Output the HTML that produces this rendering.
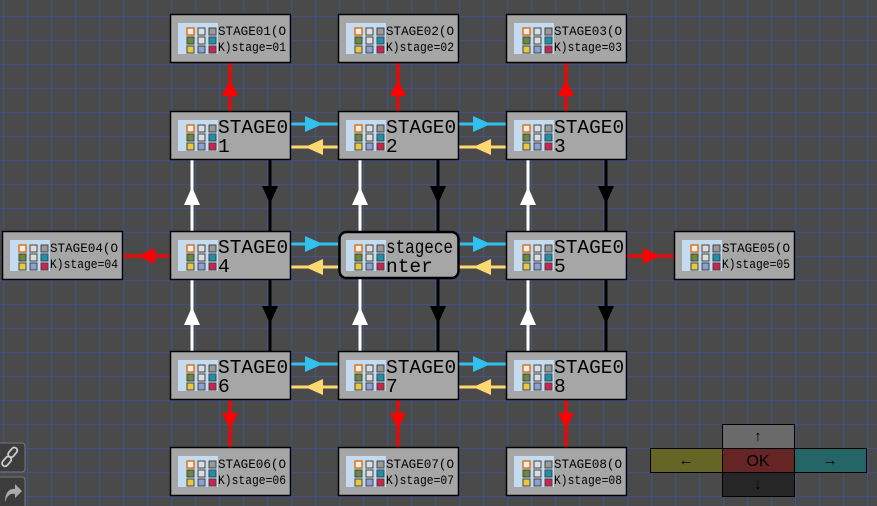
<!DOCTYPE html>
<html><head><meta charset="utf-8"><style>
html,body{margin:0;padding:0;background:#4a4a4a;}
svg{display:block;}
text{font-family:"Liberation Mono","DejaVu Sans Mono",monospace;fill:#000;}
.big{font-size:19.5px;}
.sm{font-size:12.5px;}
</style></head><body>
<svg width="877" height="506" viewBox="0 0 877 506" xmlns="http://www.w3.org/2000/svg">
<defs>
<pattern id="grid" x="3.5" y="16.3" width="24" height="24" patternUnits="userSpaceOnUse">
<path d="M0 0H24M0 0V24" stroke="#3f55b5" stroke-width="1.2" fill="none"/>
</pattern>
<g id="ic">
<rect x="0" y="0" width="40" height="31" fill="#c5dcf0"/>
<rect x="9" y="5" width="7" height="7" fill="#eee" stroke="#e07010" stroke-width="1.5"/>
<rect x="20" y="5" width="7" height="7" fill="#ddd" stroke="#444"/>
<rect x="31" y="5" width="7" height="7" fill="#999" stroke="#444"/>
<rect x="9" y="14" width="7" height="7" fill="#6a8a40" stroke="#444"/>
<rect x="20" y="14" width="7" height="7" fill="#ddd" stroke="#444"/>
<rect x="31" y="14" width="7" height="7" fill="#2090b0" stroke="#444"/>
<rect x="9" y="23" width="7" height="7" fill="#e8c840" stroke="#444"/>
<rect x="20" y="23" width="7" height="7" fill="#8aa0d0" stroke="#444"/>
<rect x="31" y="23" width="7" height="7" fill="#d02050" stroke="#444"/>
</g>
</defs>
<rect width="877" height="506" fill="#4a4a4a"/>
<rect width="877" height="506" fill="url(#grid)"/>

<g stroke-width="3">
<g id="hp">
<line x1="290" y1="124" x2="338" y2="124" stroke="#30c0f0"/>
<polygon points="305,116 323,124 305,132" fill="#30c0f0" stroke="none"/>
<line x1="290" y1="147" x2="338" y2="147" stroke="#ffd870"/>
<polygon points="323,139 305,147 323,155" fill="#ffd870" stroke="none"/>
</g>
<use href="#hp" x="168"/>
<use href="#hp" y="120"/><use href="#hp" x="168" y="120"/>
<use href="#hp" y="240"/><use href="#hp" x="168" y="240"/>
<g id="vp">
<line x1="192" y1="159" x2="192" y2="231" stroke="#fff"/>
<polygon points="192,187 184,205 200,205" fill="#fff" stroke="none"/>
<line x1="270" y1="159" x2="270" y2="231" stroke="#000"/>
<polygon points="262,186 278,186 270,204" fill="#000" stroke="none"/>
</g>
<use href="#vp" x="168"/><use href="#vp" x="336"/>
<use href="#vp" y="120"/><use href="#vp" x="168" y="120"/><use href="#vp" x="336" y="120"/>
<g id="rt"><line x1="230" y1="62" x2="230" y2="111" stroke="#f00"/>
<polygon points="230,80 222,96 238,96" fill="#f00" stroke="none"/></g>
<use href="#rt" x="168"/><use href="#rt" x="336"/>
<g id="rb"><line x1="230" y1="399" x2="230" y2="447" stroke="#f00"/>
<polygon points="222,413 238,413 230,429" fill="#f00" stroke="none"/></g>
<use href="#rb" x="168"/><use href="#rb" x="336"/>
<line x1="122" y1="256" x2="170" y2="256" stroke="#f00"/>
<polygon points="138,256 155,248 155,264" fill="#f00"/>
<line x1="626" y1="256" x2="674" y2="256" stroke="#f00"/>
<polygon points="660,256 643,248 643,264" fill="#f00"/>
</g>

<g stroke="#000" stroke-width="1.5" fill="#a6a6a6">
<rect x="170.5" y="111.5" width="120" height="48"/>
<rect x="338.5" y="111.5" width="120" height="48"/>
<rect x="506.5" y="111.5" width="120" height="48"/>
<rect x="170.5" y="231.5" width="120" height="48"/>
<rect x="506.5" y="231.5" width="120" height="48"/>
<rect x="170.5" y="351.5" width="120" height="48"/>
<rect x="338.5" y="351.5" width="120" height="48"/>
<rect x="506.5" y="351.5" width="120" height="48"/>
<rect x="339.5" y="232" width="119" height="46" rx="7" stroke-width="2.5"/>
<rect x="170.5" y="14.5" width="120" height="48"/>
<rect x="338.5" y="14.5" width="120" height="48"/>
<rect x="506.5" y="14.5" width="120" height="48"/>
<rect x="2.5" y="231.5" width="120" height="48"/>
<rect x="674.5" y="231.5" width="120" height="48"/>
<rect x="170.5" y="447.5" width="120" height="48"/>
<rect x="338.5" y="447.5" width="120" height="48"/>
<rect x="506.5" y="447.5" width="120" height="48"/>
</g>
<use href="#ic" x="178" y="120"/><use href="#ic" x="346" y="120"/><use href="#ic" x="514" y="120"/>
<use href="#ic" x="178" y="240"/><use href="#ic" x="346" y="240"/><use href="#ic" x="514" y="240"/>
<use href="#ic" x="178" y="360"/><use href="#ic" x="346" y="360"/><use href="#ic" x="514" y="360"/>
<use href="#ic" x="178" y="23"/><use href="#ic" x="346" y="23"/><use href="#ic" x="514" y="23"/>
<use href="#ic" x="10" y="240"/><use href="#ic" x="682" y="240"/>
<use href="#ic" x="178" y="456"/><use href="#ic" x="346" y="456"/><use href="#ic" x="514" y="456"/>

<g class="big">
<text x="218" y="133">STAGE0</text><text x="218" y="152">1</text>
<text x="386" y="133">STAGE0</text><text x="386" y="152">2</text>
<text x="554" y="133">STAGE0</text><text x="554" y="152">3</text>
<text x="218" y="253">STAGE0</text><text x="218" y="272">4</text>
<text x="386" y="253" textLength="67" lengthAdjust="spacingAndGlyphs">stagece</text><text x="386" y="272">nter</text>
<text x="554" y="253">STAGE0</text><text x="554" y="272">5</text>
<text x="218" y="373">STAGE0</text><text x="218" y="392">6</text>
<text x="386" y="373">STAGE0</text><text x="386" y="392">7</text>
<text x="554" y="373">STAGE0</text><text x="554" y="392">8</text>
</g>
<g class="sm" lengthAdjust="spacingAndGlyphs">
<text x="218" y="35" textLength="68" lengthAdjust="spacingAndGlyphs">STAGE01(O</text><text x="218" y="51" textLength="68" lengthAdjust="spacingAndGlyphs">K)stage=01</text>
<text x="386" y="35" textLength="68" lengthAdjust="spacingAndGlyphs">STAGE02(O</text><text x="386" y="51" textLength="68" lengthAdjust="spacingAndGlyphs">K)stage=02</text>
<text x="554" y="35" textLength="68" lengthAdjust="spacingAndGlyphs">STAGE03(O</text><text x="554" y="51" textLength="68" lengthAdjust="spacingAndGlyphs">K)stage=03</text>
<text x="50" y="252" textLength="68" lengthAdjust="spacingAndGlyphs">STAGE04(O</text><text x="50" y="268" textLength="68" lengthAdjust="spacingAndGlyphs">K)stage=04</text>
<text x="722" y="252" textLength="68" lengthAdjust="spacingAndGlyphs">STAGE05(O</text><text x="722" y="268" textLength="68" lengthAdjust="spacingAndGlyphs">K)stage=05</text>
<text x="218" y="468" textLength="68" lengthAdjust="spacingAndGlyphs">STAGE06(O</text><text x="218" y="484" textLength="68" lengthAdjust="spacingAndGlyphs">K)stage=06</text>
<text x="386" y="468" textLength="68" lengthAdjust="spacingAndGlyphs">STAGE07(O</text><text x="386" y="484" textLength="68" lengthAdjust="spacingAndGlyphs">K)stage=07</text>
<text x="554" y="468" textLength="68" lengthAdjust="spacingAndGlyphs">STAGE08(O</text><text x="554" y="484" textLength="68" lengthAdjust="spacingAndGlyphs">K)stage=08</text>
</g>

<g stroke="#000" stroke-width="1">
<rect x="722.5" y="424.5" width="72" height="24" fill="#6a6a6a"/>
<rect x="650.5" y="448.5" width="72" height="24" fill="#656525"/>
<rect x="722.5" y="448.5" width="72" height="24" fill="#652525"/>
<rect x="794.5" y="448.5" width="72" height="24" fill="#256565"/>
<rect x="722.5" y="472.5" width="72" height="24" fill="#262626"/>
</g>
<g font-size="15" text-anchor="middle" style="font-family:'DejaVu Sans',sans-serif">
<text x="758" y="441">↑</text>
<text x="686" y="465">←</text>
<text x="758" y="466" style="font-family:'Liberation Sans',sans-serif;font-size:16px">OK</text>
<text x="830" y="465">→</text>
<text x="758" y="489">↓</text>
</g>

<rect x="-4" y="443" width="29" height="29" rx="3" fill="#3c3c3c" stroke="#777"/>
<rect x="-4" y="477" width="29" height="32" rx="3" fill="#3c3c3c" stroke="#777"/>
<g stroke="#ccc" stroke-width="1.8" fill="none">
<rect x="10" y="447" width="6" height="11" rx="3" transform="rotate(40 13 452)"/>
<rect x="4" y="456" width="6" height="11" rx="3" transform="rotate(40 7 461)"/>
</g>
<path d="M5 502 C5 492 10 488 15 489 L15 484 L22 491 L15 498 L15 494 C10 493 7 496 5 502Z" fill="#aaa"/>
</svg>
</body></html>
